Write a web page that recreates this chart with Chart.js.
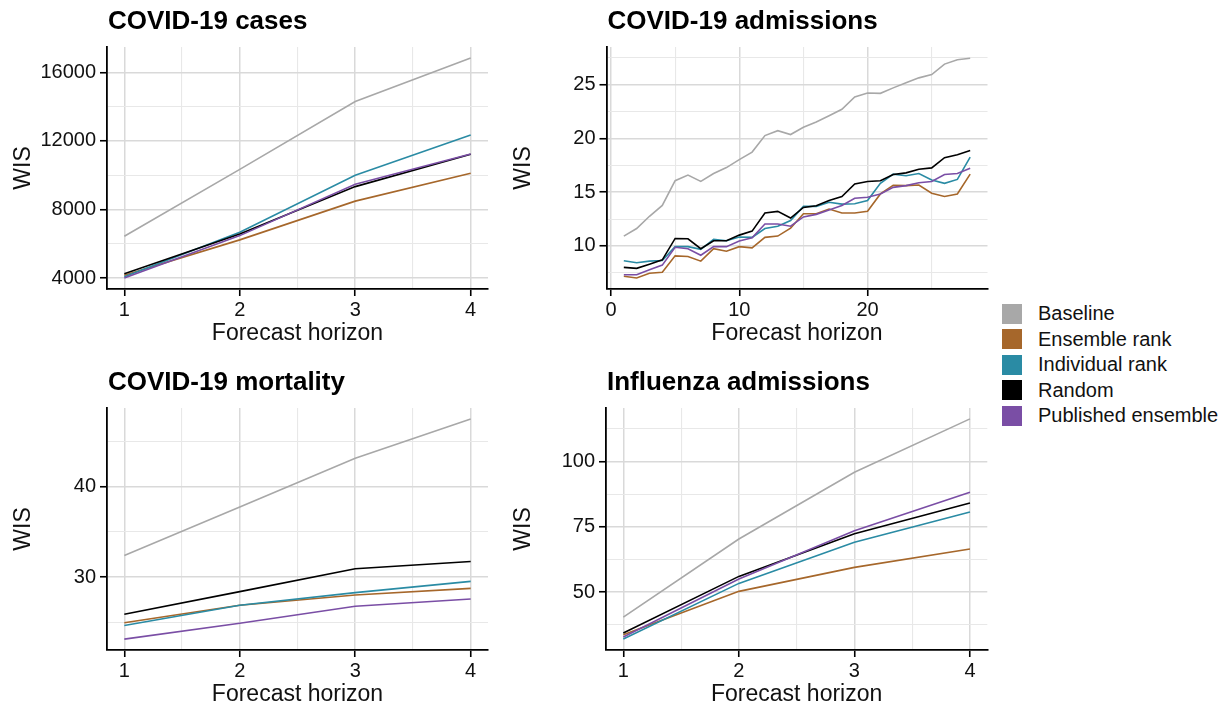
<!DOCTYPE html>
<html>
<head>
<meta charset="utf-8">
<script src="https://cdn.jsdelivr.net/npm/chart.js@4.4.1/dist/chart.umd.min.js"></script>
<style>
  body { margin: 0; background: #fff; width: 1225px; height: 710px; position: relative; overflow: hidden;
         font-family: "Liberation Sans", Arial, sans-serif; }
  .panel { position: absolute; width: 500px; height: 350px; }
  #legend { position: absolute; left: 1002px; top: 301px; }
  .item { display: flex; align-items: center; height: 25.5px; font-size: 20px; color: #111; white-space: nowrap; }
  .swatch { width: 20px; height: 20px; margin-right: 16px; flex: none; }
</style>
</head>
<body>
<div class="panel" style="left:0;top:0"><canvas id="cases"></canvas></div>
<div class="panel" style="left:500px;top:0"><canvas id="admissions"></canvas></div>
<div class="panel" style="left:0;top:361px"><canvas id="mortality"></canvas></div>
<div class="panel" style="left:500px;top:361px"><canvas id="flu"></canvas></div>
<div id="legend"></div>

<script>
const FONT = '"Liberation Sans", Arial, sans-serif';

const seriesNames = ['Baseline', 'Ensemble rank', 'Individual rank', 'Random', 'Published ensemble'];
const seriesColors = ['#a8a8a8', '#a6672b', '#2a8ba4', '#000000', '#7a4ea5'];

// forecast horizons (weeks) and daily horizons for admissions
const horizons = [1, 2, 3, 4];
const dayHorizons = [1, 2, 3, 4, 5, 6, 7, 8, 9, 10, 11, 12, 13, 14,
                     15, 16, 17, 18, 19, 20, 21, 22, 23, 24, 25, 26, 27, 28];

// COVID-19 cases
const casesBaseline   = [6435, 10340, 14300, 16835];
const casesEnsemble   = [4157, 6226, 8487, 10110];
const casesIndividual = [4080, 6667, 9994, 12348];
const casesRandom     = [4255, 6574, 9333, 11220];
const casesPublished  = [4000, 6475, 9472, 11240];

// COVID-19 admissions
const admBaseline   = [10.92, 11.62, 12.76, 13.77, 16.07, 16.59, 16.0, 16.74, 17.29, 18.03, 18.73, 20.26, 20.72, 20.36,
                       21.03, 21.52, 22.1, 22.71, 23.85, 24.22, 24.19, 24.7, 25.17, 25.63, 25.93, 26.91, 27.31, 27.46];
const admEnsemble   = [7.18, 7.03, 7.46, 7.55, 9.08, 9.02, 8.59, 9.75, 9.51, 9.94, 9.82, 10.8, 10.92, 11.65,
                       13.0, 13.0, 13.43, 13.06, 13.06, 13.22, 14.84, 15.64, 15.61, 15.67, 14.9, 14.6, 14.84, 16.68];
const admIndividual = [8.62, 8.44, 8.59, 8.65, 9.94, 9.94, 9.69, 10.61, 10.49, 10.83, 10.8, 11.62, 11.84, 12.36,
                       13.68, 13.68, 14.07, 13.89, 13.92, 14.23, 15.82, 16.68, 16.53, 16.74, 16.13, 15.82, 16.19, 18.27];
const admRandom     = [8.01, 7.92, 8.31, 8.71, 10.7, 10.67, 9.75, 10.49, 10.49, 11.01, 11.38, 13.06, 13.22, 12.6,
                       13.58, 13.74, 14.23, 14.6, 15.76, 16.0, 16.07, 16.65, 16.8, 17.14, 17.26, 18.21, 18.49, 18.88];
const admPublished  = [7.33, 7.33, 7.79, 8.22, 9.88, 9.75, 9.14, 9.94, 9.94, 10.46, 10.77, 12.05, 12.05, 11.84,
                       12.7, 12.94, 13.34, 13.77, 14.44, 14.53, 14.84, 15.45, 15.61, 15.88, 16.0, 16.65, 16.74, 17.23];

// COVID-19 mortality
const mortBaseline   = [32.38, 37.73, 43.11, 47.44];
const mortEnsemble   = [24.95, 26.89, 28.02, 28.75];
const mortIndividual = [24.65, 26.89, 28.28, 29.52];
const mortRandom     = [25.9, 28.39, 30.92, 31.72];
const mortPublished  = [23.15, 24.91, 26.78, 27.58];

// Influenza admissions
const fluBaseline   = [40.41, 70.32, 95.88, 116.33];
const fluEnsemble   = [33.64, 50.26, 59.46, 66.49];
const fluIndividual = [31.98, 53.32, 69.04, 80.67];
const fluRandom     = [34.28, 56.0, 72.37, 84.13];
const fluPublished  = [32.75, 54.98, 73.52, 88.22];

// axis breaks
const horizonMajor = [1, 2, 3, 4], horizonMinor = [1.5, 2.5, 3.5];
const dayMajor = [0, 10, 20], dayMinor = [5, 15, 25];
const casesMajor = [4000, 8000, 12000, 16000], casesMinor = [6000, 10000, 14000];
const admMajor = [10, 15, 20, 25], admMinor = [7.5, 12.5, 17.5, 22.5, 27.5];
const mortMajor = [30, 40], mortMinor = [25, 35, 45];
const fluMajor = [50, 75, 100], fluMinor = [37.5, 62.5, 87.5, 112.5];

// panel title drawn flush with the plot's left edge
const panelTitle = {
  id: 'panelTitle',
  afterDraw(chart, args, opts) {
    const ctx = chart.ctx;
    ctx.save();
    ctx.font = 'bold 26px ' + FONT;
    ctx.fillStyle = '#000';
    ctx.textBaseline = 'alphabetic';
    ctx.fillText(opts.text, chart.chartArea.left + 1, 29);
    ctx.restore();
  }
};

function axis(pos, min, max, major, minor, title, size) {
  const isMajor = v => major.includes(v);
  return {
    type: 'linear',
    position: pos,
    min: min,
    max: max,
    afterBuildTicks: s => {
      s.ticks = major.concat(minor).sort((a, b) => a - b).map(v => ({ value: v }));
    },
    afterFit: s => {
      if (pos === 'left') s.width = size; else s.height = size;
    },
    border: { display: true, color: '#000', width: 1.8 },
    grid: {
      color: c => isMajor(c.tick.value) ? '#d9d9d9' : '#e8e8e8',
      lineWidth: c => isMajor(c.tick.value) ? 1.5 : 1.1,
      tickColor: c => isMajor(c.tick.value) ? '#000' : 'rgba(0,0,0,0)',
      tickWidth: 1.6,
      tickLength: 7
    },
    ticks: {
      autoSkip: false,
      maxRotation: 0,
      padding: pos === 'left' ? 4 : 2,
      color: '#111',
      font: { family: FONT, size: 20 },
      callback: v => isMajor(v) ? String(v) : ''
    },
    title: {
      display: true,
      text: title,
      color: '#111',
      font: { family: FONT, size: 23 },
      padding: pos === 'left' ? { top: 9.5, bottom: 0 } : { top: 0, bottom: 2.2 }
    }
  };
}

function makePanel(id, title, xs, series, xAxis, yAxis, left, right) {
  const datasets = series.map((vals, i) => ({
    label: seriesNames[i],
    data: vals.map((v, j) => ({ x: xs[j], y: v })),
    borderColor: seriesColors[i],
    backgroundColor: seriesColors[i],
    borderWidth: 1.6,
    pointRadius: 0,
    tension: 0,
    order: series.length - i
  }));
  new Chart(document.getElementById(id), {
    type: 'line',
    data: { datasets: datasets },
    options: {
      responsive: true,
      maintainAspectRatio: false,
      animation: false,
      events: [],
      layout: { padding: { top: 47, right: right, bottom: 0, left: 0 } },
      scales: {
        x: axis('bottom', xAxis.min, xAxis.max, xAxis.major, xAxis.minor, 'Forecast horizon', 61),
        y: axis('left', yAxis.min, yAxis.max, yAxis.major, yAxis.minor, 'WIS', left)
      },
      plugins: {
        legend: { display: false },
        tooltip: { enabled: false },
        panelTitle: { text: title }
      }
    },
    plugins: [panelTitle]
  });
}

const weekAxis = { min: 0.85, max: 4.15, major: horizonMajor, minor: horizonMinor };
const dayAxis = { min: -0.35, max: 29.35, major: dayMajor, minor: dayMinor };

makePanel('cases', 'COVID-19 cases', horizons,
  [casesBaseline, casesEnsemble, casesIndividual, casesRandom, casesPublished],
  weekAxis, { min: 3360, max: 17480, major: casesMajor, minor: casesMinor }, 107, 12);

makePanel('admissions', 'COVID-19 admissions', dayHorizons,
  [admBaseline, admEnsemble, admIndividual, admRandom, admPublished],
  dayAxis, { min: 6.0, max: 28.5, major: admMajor, minor: admMinor }, 106.5, 12.5);

makePanel('mortality', 'COVID-19 mortality', horizons,
  [mortBaseline, mortEnsemble, mortIndividual, mortRandom, mortPublished],
  weekAxis, { min: 21.95, max: 48.65, major: mortMajor, minor: mortMinor }, 107, 12);

makePanel('flu', 'Influenza admissions', horizons,
  [fluBaseline, fluEnsemble, fluIndividual, fluRandom, fluPublished],
  weekAxis, { min: 27.8, max: 120.5, major: fluMajor, minor: fluMinor }, 106, 12.7);

// shared legend
const legend = document.getElementById('legend');
seriesNames.forEach((name, i) => {
  const row = document.createElement('div');
  row.className = 'item';
  const sw = document.createElement('span');
  sw.className = 'swatch';
  sw.style.background = seriesColors[i];
  row.appendChild(sw);
  row.appendChild(document.createTextNode(name));
  legend.appendChild(row);
});
</script>
</body>
</html>
